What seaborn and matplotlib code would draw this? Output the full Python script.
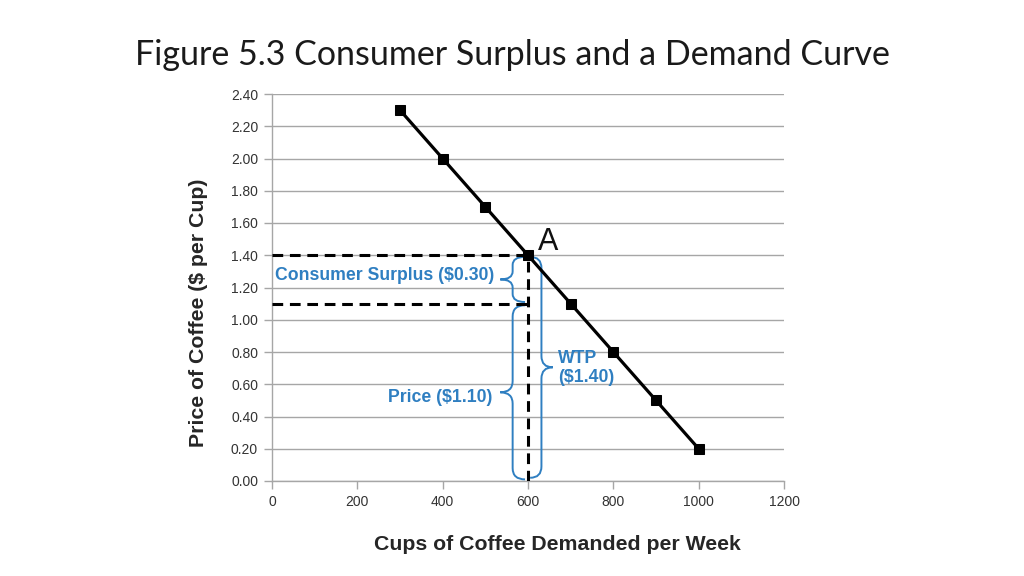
import matplotlib

matplotlib.use("Agg")
import matplotlib.pyplot as plt
import numpy as np
import pandas as pd
import seaborn as sns
from matplotlib.patches import PathPatch
from matplotlib.path import Path

# demand curve points
quantity = [300, 400, 500, 600, 700, 800, 900, 1000]
price = [2.30, 2.00, 1.70, 1.40, 1.10, 0.80, 0.50, 0.20]

# point A and the market price
point_a = (600, 1.40)
market_price = 1.10

y_ticks = [0.0, 0.2, 0.4, 0.6, 0.8, 1.0, 1.2, 1.4, 1.6, 1.8, 2.0, 2.2, 2.4]
x_ticks = [0, 200, 400, 600, 800, 1000, 1200]

BLUE = "#2f7fc1"
GRID = "#a6a6a6"


def brace(ax, x, y0, y1, w, h, **kw):
    """Vertical curly brace; its ends sit at x, its tip at x - w."""
    ym = (y0 + y1) / 2
    xb = x - w / 2
    verts = [
        (x, y0), (xb, y0), (xb, y0 + h),
        (xb, ym - h),
        (xb, ym), (x - w, ym),
        (xb, ym), (xb, ym + h),
        (xb, y1 - h),
        (xb, y1), (x, y1),
    ]
    codes = [Path.MOVETO, Path.CURVE3, Path.CURVE3, Path.LINETO,
             Path.CURVE3, Path.CURVE3, Path.CURVE3, Path.CURVE3,
             Path.LINETO, Path.CURVE3, Path.CURVE3]
    ax.add_patch(PathPatch(Path(verts, codes), fill=False, **kw))


sns.set_style("white")
plt.rcParams["font.family"] = ["Liberation Sans", "DejaVu Sans"]

fig = plt.figure(figsize=(10.24, 5.76), dpi=100)
ax = fig.add_axes([272 / 1024, 95 / 576, 512 / 1024, 387 / 576])

df = pd.DataFrame({"quantity": quantity, "price": price})
sns.lineplot(data=df, x="quantity", y="price", ax=ax, color="black",
             linewidth=2.3, marker="s", markersize=7.5, markeredgecolor="black",
             zorder=5)

dash = dict(color="black", linewidth=2.2, linestyle=(0, (3.5, 2.2)), zorder=4)
ax.plot([0, point_a[0]], [point_a[1], point_a[1]], **dash)
ax.plot([0, point_a[0]], [market_price, market_price], **dash)
ax.plot([point_a[0], point_a[0]], [0, point_a[1]], **dash)

bkw = dict(edgecolor=BLUE, linewidth=1.4, zorder=3)
brace(ax, 593, market_price + 0.01, point_a[1] - 0.01, 58, 0.05, **bkw)
brace(ax, 593, 0.01, market_price - 0.01, 58, 0.07, **bkw)
brace(ax, 605, 0.02, point_a[1] - 0.01, -53, 0.07, **bkw)

tkw = dict(color=BLUE, fontsize=12.7, fontweight="bold")
ax.text(520, 1.275, f"Consumer Surplus (${point_a[1] - market_price:.2f})",
        ha="right", va="center", **tkw)
ax.text(516, 0.515, f"Price (${market_price:.2f})", ha="right", va="center", **tkw)
ax.text(670, 0.70, f"WTP\n(${point_a[1]:.2f})", ha="left", va="center",
        linespacing=1.2, **tkw)
ax.text(624, 1.485, "A", fontsize=22, ha="left", va="center", color="#111111")

ax.set_xlim(0, 1200)
ax.set_ylim(0, 2.4)
ax.set_xticks(x_ticks)
ax.set_yticks(y_ticks)
ax.set_yticklabels([f"{v:.2f}" for v in y_ticks])
ax.yaxis.grid(True, color=GRID, linewidth=1)
ax.xaxis.grid(False)
ax.tick_params(axis="both", which="major", length=6, width=1, color=GRID,
               labelsize=10, labelcolor="#333333", direction="out", pad=4,
               left=True, bottom=True)
for side in ["top", "right"]:
    ax.spines[side].set_visible(False)
for side in ["left", "bottom"]:
    ax.spines[side].set_color(GRID)
    ax.spines[side].set_linewidth(1)

ax.set_xlabel("Cups of Coffee Demanded per Week", fontsize=15.3,
              fontweight="bold")
ax.set_ylabel("Price of Coffee ($ per Cup)", fontsize=15.3,
              fontweight="bold")
ax.xaxis.set_label_coords(0.557, -0.163)
ax.yaxis.set_label_coords(-0.1445, 0.434)
ax.xaxis.label.set_va("center")
ax.yaxis.label.set_va("center")

fig.text(0.5, 0.904, "Figure 5.3 Consumer Surplus and a Demand Curve",
         ha="center", va="center", fontsize=24.5, family=["Lato", "DejaVu Sans"],
         color="#1a1a1a")

fig.savefig("out.png", dpi=100)
